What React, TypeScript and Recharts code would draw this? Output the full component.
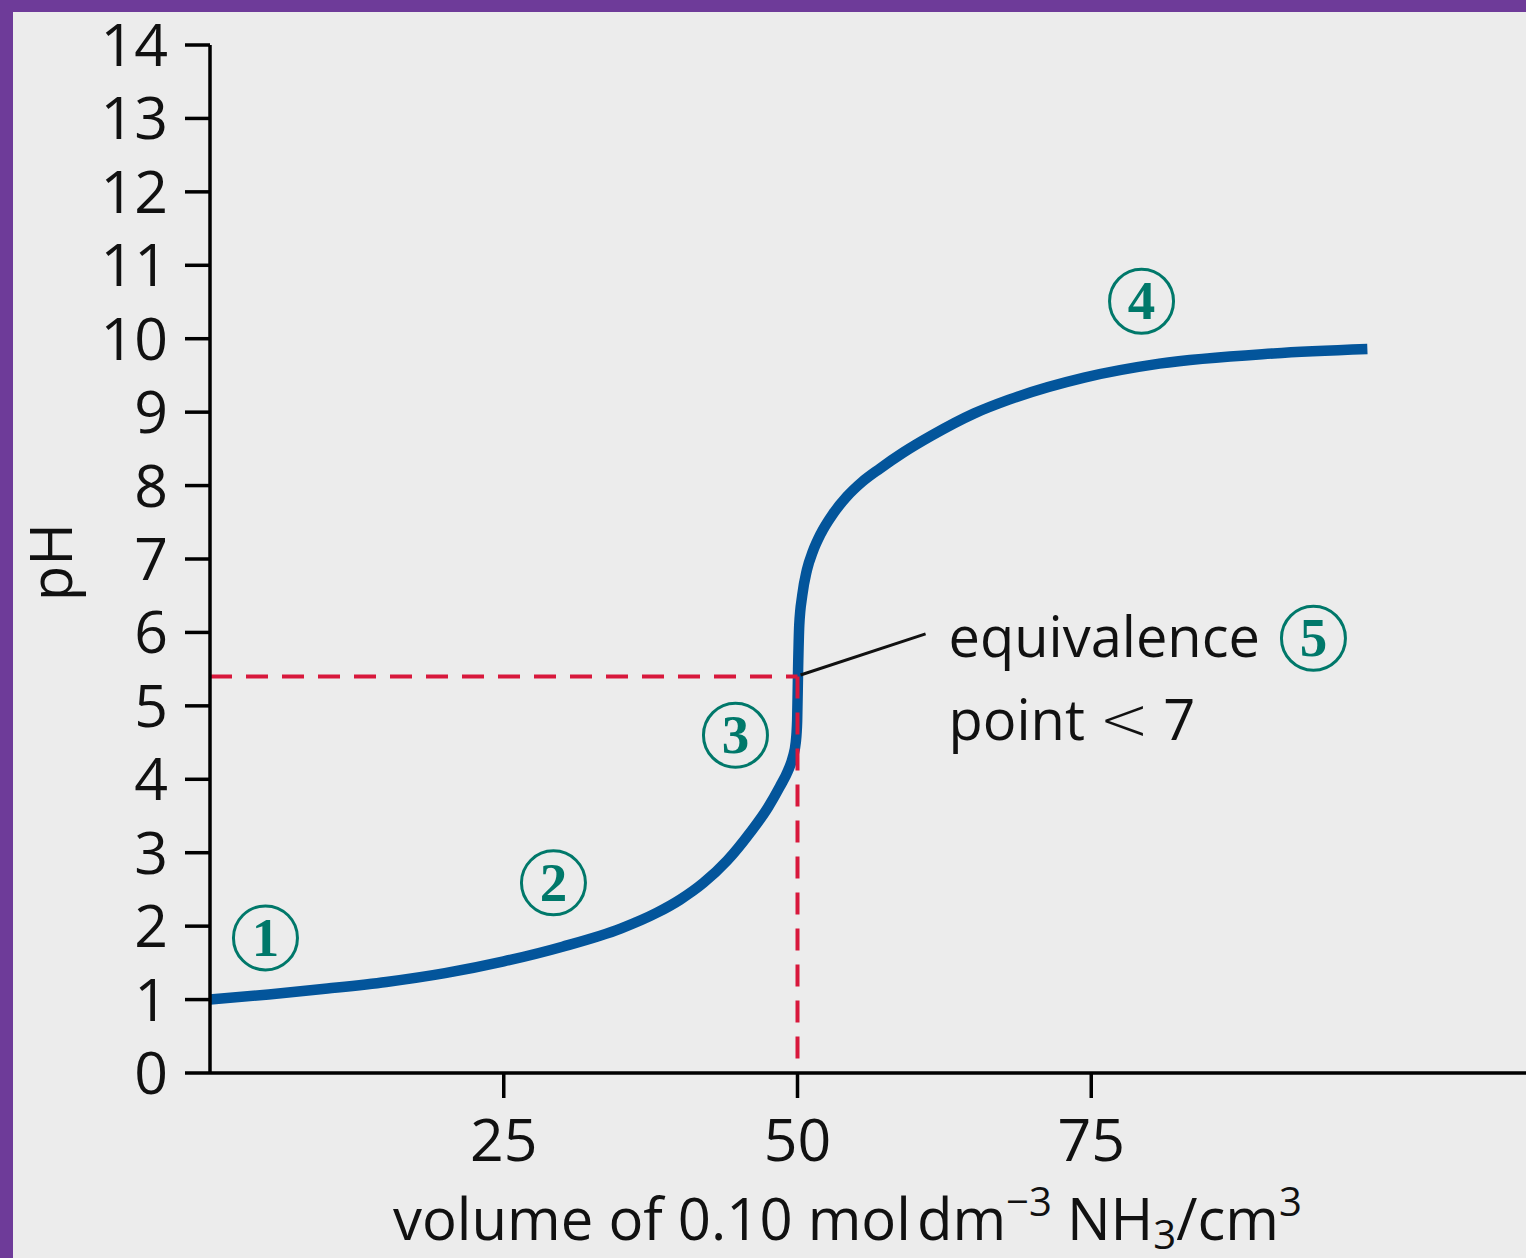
import React from 'react';
import { LineChart, Line, XAxis, YAxis, ReferenceLine, ReferenceDot } from 'recharts';

// ---- data ----
const volumes = [0, 5, 10, 15, 20, 25, 30, 35, 38, 40, 42, 44, 46, 47.5, 48.5, 49.2, 49.6, 49.85, 49.97, 50.05, 50.15, 50.4, 50.8, 51.3, 52.0, 53.0, 54.2, 55.5, 57.0, 59.0, 61.4, 65.0, 68.0, 74.4, 80.8, 90.5, 98.5];
const phValues = [1.0, 1.07, 1.15, 1.24, 1.36, 1.52, 1.72, 1.97, 2.18, 2.36, 2.59, 2.89, 3.28, 3.62, 3.9, 4.12, 4.3, 4.5, 4.8, 5.5, 6.1, 6.5, 6.85, 7.1, 7.35, 7.61, 7.85, 8.05, 8.23, 8.45, 8.68, 8.98, 9.17, 9.47, 9.66, 9.8, 9.86];
const xTicks = [25, 50, 75];
const yTicks = [0, 1, 2, 3, 4, 5, 6, 7, 8, 9, 10, 11, 12, 13, 14];
const equivalenceVolume = 50;
const equivalencePH = 5.4;
const markerLabels = ['1', '2', '3', '4', '5'];
const markerVolumes = [4.72, 29.23, 44.72, 79.28, 93.91];
const markerPH = [1.84, 2.59, 4.6, 10.51, 5.92];
const noteVolume = 62.85;
const notePH = [5.67, 4.53];
const pointerFrom = { v: 50.26, ph: 5.42 };
const pointerTo = { v: 60.9, ph: 5.98 };

const data = volumes.map((v, i) => ({ v, pH: phValues[i] }));

const FONT = '"Open Sans", sans-serif';
const TEAL = '#00786A';
const BLUE = '#03559B';
const RED = '#D8183C';

const YTick = (props: any) => {
  const { x, y, payload } = props;
  return (
    <text x={x} y={y + 21} textAnchor="end" fontFamily={FONT} fontSize={59} fill="#111">
      {payload.value}
    </text>
  );
};

const XTick = (props: any) => {
  const { x, payload } = props;
  return (
    <text x={x} y={1161} textAnchor="middle" fontFamily={FONT} fontSize={59} fill="#111">
      {payload.value}
    </text>
  );
};

const XLabel = () => (
  <text x={393} y={1240} fontFamily={FONT} fontSize={58} fill="#111">
    <tspan>volume of 0.10 mol</tspan>
    <tspan dx={6}>dm</tspan>
    <tspan fontSize={40} dy={-24}>−3</tspan>
    <tspan dy={24}> NH</tspan>
    <tspan fontSize={40} dy={9}>3</tspan>
    <tspan dy={-9}>/cm</tspan>
    <tspan fontSize={40} dy={-24}>3</tspan>
  </text>
);

const YLabel = () => (
  <text x={0} y={0} transform="translate(72,562) rotate(-90)" textAnchor="middle" fontFamily={FONT} fontSize={58} fill="#111">
    pH
  </text>
);

const makeMarker = (label: string) => (props: any) => {
  const { cx, cy } = props;
  return (
    <g>
      <circle cx={cx} cy={cy} r={32} fill="none" stroke={TEAL} strokeWidth={3} />
      <text x={cx} y={cy + 18} textAnchor="middle" fontFamily='"Liberation Serif", serif' fontWeight="bold" fontSize={55} fill={TEAL}>
        {label}
      </text>
    </g>
  );
};

const EquivalenceNote = (props: any) => {
  const { cx, cy } = props;
  return (
    <text x={cx} y={cy} fontFamily={FONT} fontSize={56} fill="#111">
      equivalence
    </text>
  );
};

const PointNote = (props: any) => {
  const { cx, cy } = props;
  return (
    <text x={cx} y={cy} fontFamily={FONT} fontSize={56} fill="#111">
      <tspan>point</tspan>
      <tspan dx={14} fontSize={60} fontFamily='"DejaVu Sans", sans-serif' fontWeight="200">&lt;</tspan>
      <tspan dx={14}>7</tspan>
    </text>
  );
};

export default function App() {
  return (
    <div style={{ position: 'absolute', left: 0, top: 0, width: 1526, height: 1258, background: '#6E3B99', overflow: 'hidden' }}>
      <div style={{ position: 'absolute', left: 13, top: 12, width: 1513, height: 1246, background: '#ECECEC' }} />
      <div style={{ position: 'absolute', left: 0, top: 0 }}>
        <LineChart width={1526} height={1258} data={data} margin={{ top: 45, right: 0, bottom: 0, left: 0 }}>
          <XAxis
            dataKey="v"
            type="number"
            domain={[0, 112]}
            ticks={xTicks}
            interval={0}
            height={185}
            tickSize={25}
            tickMargin={4}
            axisLine={{ stroke: '#000', strokeWidth: 3.5 }}
            tickLine={{ stroke: '#000', strokeWidth: 3.5 }}
            tick={<XTick />}
            label={{ content: <XLabel /> }}
          />
          <YAxis
            type="number"
            domain={[0, 14]}
            ticks={yTicks}
            interval={0}
            width={210}
            tickSize={25}
            tickMargin={17}
            axisLine={{ stroke: '#000', strokeWidth: 3.5 }}
            tickLine={{ stroke: '#000', strokeWidth: 3.5 }}
            tick={<YTick />}
            label={{ content: <YLabel /> }}
          />
          <Line
            type="monotone"
            dataKey="pH"
            stroke={BLUE}
            strokeWidth={10.5}
            dot={false}
            activeDot={false}
            isAnimationActive={false}
          />
          <ReferenceLine
            segment={[{ x: 0, y: equivalencePH }, { x: equivalenceVolume, y: equivalencePH }]}
            stroke={RED}
            strokeWidth={4}
            strokeDasharray="22 14"
          />
          <ReferenceLine
            segment={[{ x: equivalenceVolume, y: equivalencePH }, { x: equivalenceVolume, y: 0 }]}
            stroke={RED}
            strokeWidth={4}
            strokeDasharray="22 14"
          />
          <ReferenceLine
            segment={[{ x: pointerFrom.v, y: pointerFrom.ph }, { x: pointerTo.v, y: pointerTo.ph }]}
            stroke="#111"
            strokeWidth={3}
          />
          {markerLabels.map((m, i) => (
            <ReferenceDot key={'m' + i} x={markerVolumes[i]} y={markerPH[i]} r={32} ifOverflow="visible" shape={makeMarker(m)} />
          ))}
          <ReferenceDot x={noteVolume} y={notePH[0]} r={1} ifOverflow="visible" shape={EquivalenceNote} />
          <ReferenceDot x={noteVolume} y={notePH[1]} r={1} ifOverflow="visible" shape={PointNote} />
        </LineChart>
      </div>
    </div>
  );
}
